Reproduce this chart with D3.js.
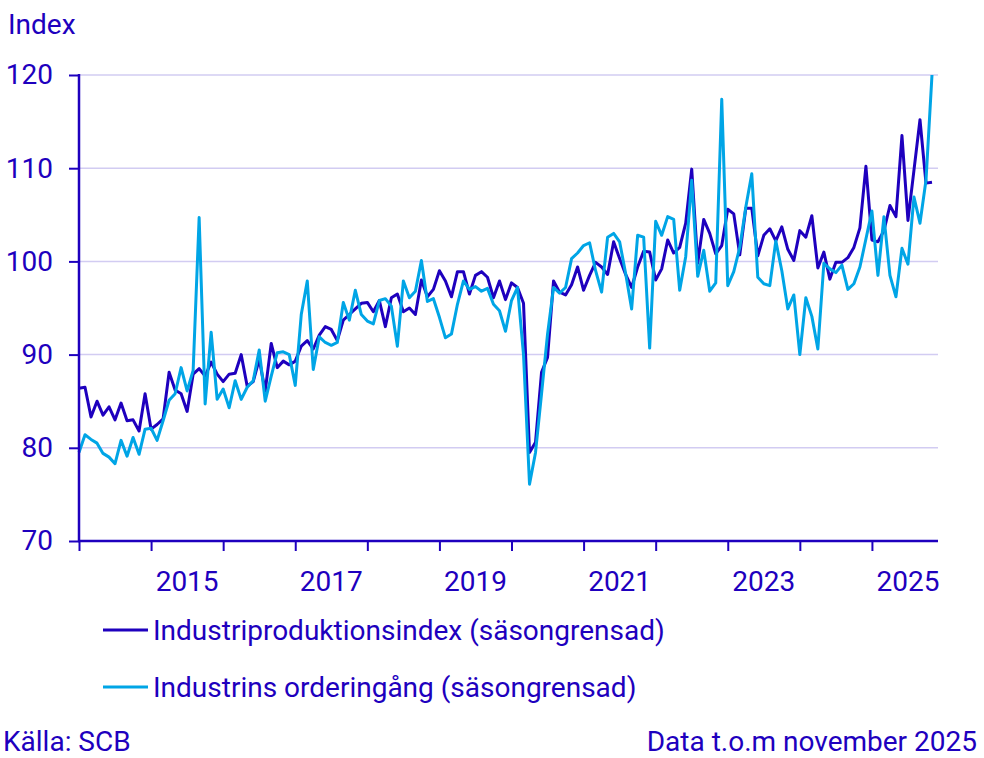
<!DOCTYPE html>
<html>
<head>
<meta charset="utf-8">
<script src="https://cdn.jsdelivr.net/npm/d3@7"></script>
<style>
  body { margin: 0; background: #fff; }
  text { font-family: Roboto, "Noto Sans", sans-serif; fill: #1e00be; }
</style>
</head>
<body>
<div id="graph"></div>
<script>
// monthly values, jan 2014 .. nov 2025
let startYear = 2014;
let produktion = [
  86.4, 86.5, 83.3, 85.0, 83.5, 84.4, 83.0, 84.8, 82.9, 83.0, 81.8, 85.8,
  82.0, 82.5, 83.1, 88.1, 86.2, 85.8, 83.9, 87.9, 88.5, 87.7, 89.2, 87.9,
  87.1, 87.9, 88.0, 90.0, 86.6, 87.1, 89.5, 86.1, 91.2, 88.6, 89.3, 88.9,
  89.3, 90.9, 91.5, 90.6, 92.1, 93.0, 92.7, 91.5, 93.7, 94.3, 94.9, 95.5,
  95.6, 94.6, 95.8, 93.0, 96.1, 96.5, 94.6, 95.0, 94.3, 98.0, 96.2, 97.0,
  99.0, 97.9, 96.2, 98.9, 98.9, 96.5, 98.5, 98.9, 98.3, 96.1, 97.9, 95.9,
  97.7, 97.2, 95.5, 79.5, 80.6, 88.1, 89.7, 97.9, 96.7, 96.4, 97.5, 99.4,
  96.9, 98.5, 99.9, 99.4, 98.6, 102.1, 100.3, 98.6, 97.2, 99.4, 101.1, 101.0,
  98.0, 99.2, 102.3, 100.9, 101.5, 104.1, 109.9, 99.8, 104.5, 103.0, 100.8, 101.7,
  105.6, 105.1, 100.7, 105.7, 105.7, 100.6, 102.8, 103.5, 102.2, 103.7, 101.3, 100.1,
  103.3, 102.6, 104.9, 99.3, 101.0, 98.1, 99.9, 99.9, 100.4, 101.5, 103.6, 110.2,
  102.3, 102.1, 103.3, 106.0, 104.8, 113.5, 104.4, 109.8, 115.2, 108.4, 108.5
];
let orderingang = [
  79.5, 81.4, 80.9, 80.5, 79.4, 79.0, 78.3, 80.8, 79.1, 81.1, 79.3, 82.0,
  82.1, 80.8, 82.9, 85.1, 85.8, 88.6, 86.1, 88.3, 104.7, 84.7, 92.4, 85.2,
  86.3, 84.3, 87.2, 85.2, 86.5, 87.2, 90.5, 85.0, 87.7, 90.2, 90.3, 90.0,
  86.7, 94.3, 97.9, 88.4, 91.9, 91.3, 91.0, 91.3, 95.6, 93.7, 96.9, 94.3,
  93.6, 93.3, 95.8, 96.0, 95.2, 90.9, 97.9, 96.1, 96.8, 100.1, 95.7, 96.0,
  94.0, 91.8, 92.2, 95.4, 97.9, 97.0, 97.3, 96.8, 97.1, 95.4, 94.7, 92.5,
  95.8, 97.2, 90.0, 76.1, 79.5, 85.8, 92.2, 97.2, 96.6, 97.2, 100.3, 100.9,
  101.7, 102.0, 99.0, 96.7, 102.6, 103.0, 102.1, 98.7, 94.9, 102.8, 102.6, 90.7,
  104.3, 102.8, 104.8, 104.5, 96.9, 100.5, 108.7, 98.4, 101.2, 96.8, 97.7, 117.4,
  97.4, 98.9, 101.5, 105.8, 109.4, 98.3, 97.6, 97.4, 102.2, 99.0, 94.9, 96.4,
  90.0, 96.1, 94.1, 90.6, 99.8, 99.2, 98.8, 99.6, 97.0, 97.6, 99.4, 102.4,
  105.4, 98.5, 104.8, 98.5, 96.2, 101.4, 99.7, 106.9, 104.1, 108.7, 120.0
];
let yTicks = [70, 80, 90, 100, 110, 120];
let yearTicks = [2014, 2015, 2016, 2017, 2018, 2019, 2020, 2021, 2022, 2023, 2024, 2025];
let yearLabels = [2015, 2017, 2019, 2021, 2023, 2025];
let seriesNames = ["Industriproduktionsindex (säsongrensad)", "Industrins orderingång (säsongrensad)"];
let seriesColors = ["#1e00be", "#00a5e6"];

let fs = 28;
let svg = d3.select("#graph").append("svg").attr("width", 984).attr("height", 758);

let x = d3.scaleLinear().domain([0, 143]).range([79, 938]);
let y = d3.scaleLinear().domain([70, 120]).range([541, 75]);
let monthOf = function(yr) { return (yr - startYear) * 12; };

// grid
svg.selectAll(".grid").data(yTicks.slice(1)).enter().append("line")
    .attr("x1", x(0)).attr("x2", x(143))
    .attr("y1", function(d) { return y(d); }).attr("y2", function(d) { return y(d); })
    .attr("stroke", "#d2ccf2").attr("stroke-width", 1.5);

// lines, light one drawn last (on top)
let line = d3.line().x(function(d, i) { return x(i); }).y(function(d) { return y(d); });
[produktion, orderingang].forEach(function(s, k) {
    svg.append("path").datum(s).attr("d", line)
        .attr("fill", "none").attr("stroke", seriesColors[k])
        .attr("stroke-width", 3).attr("stroke-linejoin", "round");
});

// y axis
let yAxis = d3.axisLeft(y).tickValues(yTicks).tickSize(10).tickPadding(16);
let yg = svg.append("g").attr("transform", "translate(" + x(0) + ",0)").call(yAxis);
yg.select(".domain").remove();
yg.selectAll(".tick line").attr("stroke", "#1e00be").attr("stroke-width", 2);
yg.selectAll(".tick text").attr("font-size", fs).attr("font-family", "Roboto").attr("fill", "#1e00be");
svg.append("line").attr("x1", x(0)).attr("x2", x(0)).attr("y1", y(120) - 1).attr("y2", y(70))
    .attr("stroke", "#1e00be").attr("stroke-width", 2.5);

// x axis
let xAxis = d3.axisBottom(x).tickValues(yearTicks.map(monthOf)).tickSize(10).tickFormat("");
let xg = svg.append("g").attr("transform", "translate(0," + y(70) + ")").call(xAxis);
xg.select(".domain").remove();
xg.selectAll(".tick line").attr("stroke", "#1e00be").attr("stroke-width", 2);
svg.append("line").attr("x1", x(0) - 1).attr("x2", x(143)).attr("y1", y(70)).attr("y2", y(70))
    .attr("stroke", "#1e00be").attr("stroke-width", 2.5);
svg.selectAll(".xlab").data(yearLabels).enter().append("text")
    .attr("x", function(d) { return x(monthOf(d) + 6); })
    .attr("y", 591).attr("text-anchor", "middle").attr("font-size", fs)
    .text(function(d) { return d; });

svg.append("text").attr("x", 8).attr("y", 34).attr("font-size", fs).text("Index");

// legend
seriesNames.forEach(function(n, k) {
    let ly = 630 + k * 57;
    svg.append("line").attr("x1", 103).attr("x2", 148).attr("y1", ly).attr("y2", ly)
        .attr("stroke", seriesColors[k]).attr("stroke-width", 3);
    svg.append("text").attr("x", 153).attr("y", ly + 10).attr("font-size", fs).text(n);
});

svg.append("text").attr("x", 3).attr("y", 751).attr("font-size", fs).text("Källa: SCB");
svg.append("text").attr("x", 977).attr("y", 751).attr("font-size", fs)
    .attr("text-anchor", "end").text("Data t.o.m november 2025");
</script>
</body>
</html>
